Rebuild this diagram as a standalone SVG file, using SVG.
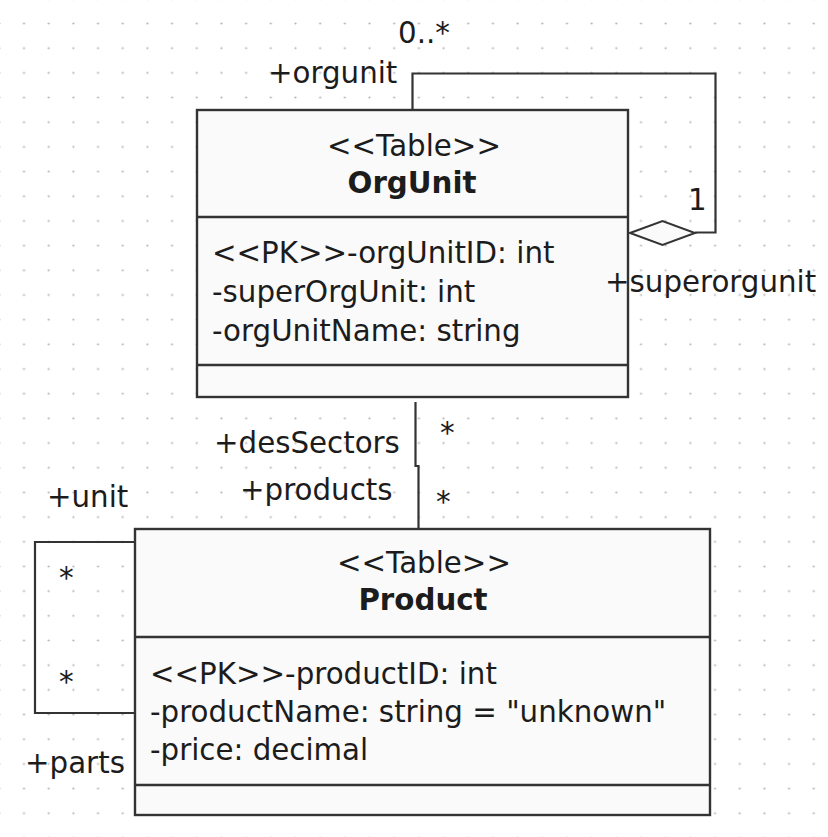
<svg xmlns="http://www.w3.org/2000/svg" width="828" height="837" viewBox="0 0 828 837">
<defs>
<pattern id="grid" patternUnits="userSpaceOnUse" x="11.66" y="11.16" width="24.68" height="24.68">
<circle cx="12.34" cy="12.34" r="1.1" fill="#b4b4b4"/>
</pattern>
<style>
text{font-family:"DejaVu Sans","Liberation Sans",sans-serif;font-size:29.3px;fill:#1c1c1c}
.b{font-weight:bold}
.c{text-anchor:middle}
.box{fill:#fafafa;stroke:#333;stroke-width:2.4}
.div{stroke:#333;stroke-width:2.4}
.ln{fill:none;stroke:#333;stroke-width:2.2}
</style>
</defs>
<rect width="828" height="837" fill="#ffffff"/>
<rect width="828" height="837" fill="url(#grid)"/>

<g id="OrgUnit">
<rect class="box" x="197" y="110" width="431" height="287"/>
<line class="div" x1="197" y1="217" x2="628" y2="217"/>
<line class="div" x1="197" y1="365" x2="628" y2="365"/>
<text class="c" x="414" y="156">&lt;&lt;Table&gt;&gt;</text>
<text class="c b" x="412" y="193">OrgUnit</text>
<text x="212" y="263">&lt;&lt;PK&gt;&gt;-orgUnitID: int</text>
<text x="212" y="302">-superOrgUnit: int</text>
<text x="212" y="341">-orgUnitName: string</text>
</g>

<g id="Product">
<rect class="box" x="135" y="529" width="575" height="286"/>
<line class="div" x1="135" y1="637" x2="710" y2="637"/>
<line class="div" x1="135" y1="785" x2="710" y2="785"/>
<text class="c" x="424" y="573">&lt;&lt;Table&gt;&gt;</text>
<text class="c b" x="423" y="610">Product</text>
<text x="150" y="684">&lt;&lt;PK&gt;&gt;-productID: int</text>
<text x="150" y="722">-productName: string = "unknown"</text>
<text x="150" y="760">-price: decimal</text>
</g>

<g id="connectors">
<polyline class="ln" points="412.5,110 412.5,73.5 715.5,73.5 715.5,232.5 695,232.5"/>
<polygon points="630,233 662.5,221 695,233 662.5,245" fill="#fafafa" stroke="#333" stroke-width="2"/>
<polyline class="ln" points="415.5,402 415.5,466 418.5,466 418.5,529"/>
<polyline class="ln" points="135,542 35,542 35,713 135,713"/>
<text x="398" y="43">0..*</text>
<text x="268" y="83">+orgunit</text>
<text x="688" y="210">1</text>
<text x="605" y="292">+superorgunit</text>
<text x="214" y="453">+desSectors</text>
<text x="440" y="443">*</text>
<text x="240" y="500">+products</text>
<text x="436" y="512">*</text>
<text x="47" y="507">+unit</text>
<text x="59" y="588">*</text>
<text x="59" y="692">*</text>
<text x="25" y="773">+parts</text>
</g>
</svg>
